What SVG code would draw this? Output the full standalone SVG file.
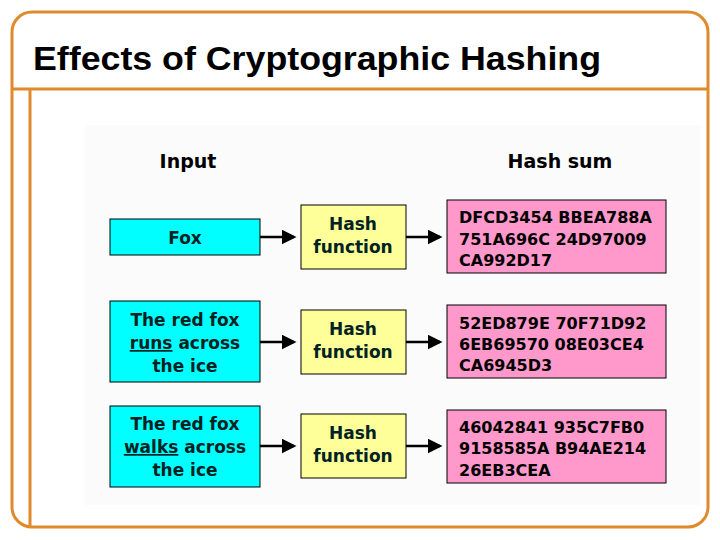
<svg xmlns="http://www.w3.org/2000/svg" width="720" height="540" viewBox="0 0 720 540">
<style>
.fr{fill:none;stroke:#E08A2A;stroke-width:3}
.in{fill:#00FFFF;stroke:#000;stroke-width:1}
.hf{fill:#FFFF99;stroke:#000;stroke-width:1}
.hs{fill:#FF99CC;stroke:#000;stroke-width:1}
text{font-family:"DejaVu Sans",Verdana,sans-serif;font-weight:bold;font-size:17px;fill:#000}
.c{text-anchor:middle}
.h{font-size:19px}
.t{font-weight:600;fill:#002222}
.s{font-size:16px}
.l{stroke:#000;stroke-width:2.5}
</style>
<defs><marker id="a" markerWidth="6" markerHeight="6" refX="5" refY="3" orient="auto" markerUnits="strokeWidth"><path d="M0,0L6,3L0,6z" fill="#000"/></marker></defs>
<rect width="720" height="540" fill="#fff"/>
<rect x="85" y="125" width="615" height="380" fill="#fbfbfb"/>
<path class="fr" d="M32,12H688A20,20 0 0 1 708,32V507A20,20 0 0 1 688,527H32A20,20 0 0 1 12,507V32A20,20 0 0 1 32,12Z"/>
<line class="fr" x1="12" y1="89" x2="708" y2="89"/>
<line class="fr" x1="30" y1="89" x2="30" y2="527"/>
<text x="33" y="70" textLength="568" lengthAdjust="spacingAndGlyphs" style="font-family:'Liberation Sans',Arial,sans-serif;font-size:34px">Effects of Cryptographic Hashing</text>
<text class="c h" x="188" y="168">Input</text>
<text class="c h" x="560" y="168">Hash sum</text>
<g id="connectors">
<line class="l" x1="260" y1="237" x2="294" y2="237" marker-end="url(#a)"/>
<line class="l" x1="406" y1="237" x2="440" y2="237" marker-end="url(#a)"/>
<line class="l" x1="260" y1="342" x2="294" y2="342" marker-end="url(#a)"/>
<line class="l" x1="406" y1="342" x2="440" y2="342" marker-end="url(#a)"/>
<line class="l" x1="260" y1="446" x2="294" y2="446" marker-end="url(#a)"/>
<line class="l" x1="406" y1="446" x2="440" y2="446" marker-end="url(#a)"/>
</g>
<g id="in1"><rect class="in" x="110" y="219" width="150" height="36"/><text class="c t" x="185" y="244">Fox</text></g>
<g id="in2"><rect class="in" x="110" y="301" width="150" height="81"/><text class="c t" x="185" y="326">The red fox</text><text class="c t" x="185" y="349"><tspan text-decoration="underline">runs</tspan> across</text><text class="c t" x="185" y="372">the ice</text></g>
<g id="in3"><rect class="in" x="110" y="406" width="150" height="81"/><text class="c t" x="185" y="430">The red fox</text><text class="c t" x="185" y="453"><tspan text-decoration="underline">walks</tspan> across</text><text class="c t" x="185" y="476">the ice</text></g>
<g id="hf1"><rect class="hf" x="301" y="205" width="105" height="64"/><text class="c t" x="353" y="230">Hash</text><text class="c t" x="353" y="253">function</text></g>
<g id="hf2"><rect class="hf" x="301" y="310" width="105" height="64"/><text class="c t" x="353" y="335">Hash</text><text class="c t" x="353" y="358">function</text></g>
<g id="hf3"><rect class="hf" x="301" y="414" width="105" height="64"/><text class="c t" x="353" y="439">Hash</text><text class="c t" x="353" y="462">function</text></g>
<g id="hs1"><rect class="hs" x="447" y="200" width="219" height="73"/><text class="s" x="459" y="223">DFCD3454 BBEA788A</text><text class="s" x="459" y="245">751A696C 24D97009</text><text class="s" x="459" y="266">CA992D17</text></g>
<g id="hs2"><rect class="hs" x="447" y="305" width="219" height="73"/><text class="s" x="459" y="329">52ED879E 70F71D92</text><text class="s" x="459" y="350">6EB69570 08E03CE4</text><text class="s" x="459" y="371">CA6945D3</text></g>
<g id="hs3"><rect class="hs" x="447" y="410" width="219" height="73"/><text class="s" x="459" y="433">46042841 935C7FB0</text><text class="s" x="459" y="454">9158585A B94AE214</text><text class="s" x="459" y="476">26EB3CEA</text></g>
</svg>
